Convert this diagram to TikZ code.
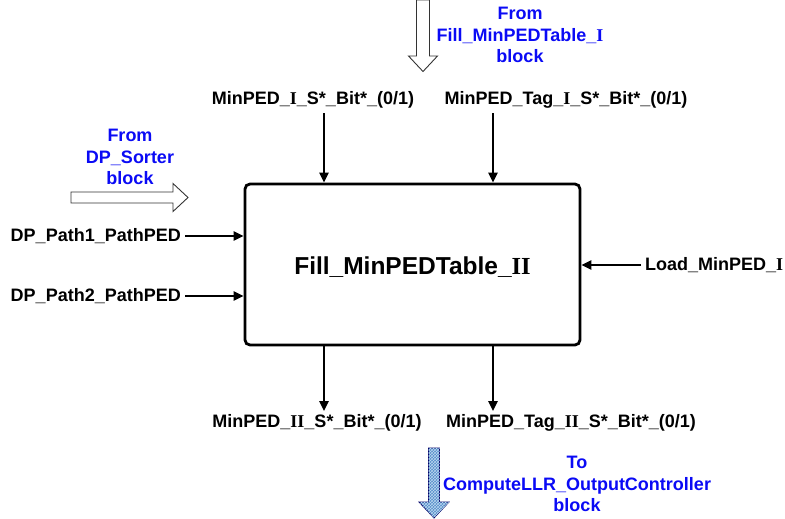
\documentclass[tikz,border=0pt]{standalone}
\usepackage{fontspec}
\setmainfont{Liberation Sans}
\newfontfamily\romanfont{Liberation Serif}
\usetikzlibrary{arrows.meta,patterns}
\newcommand{\RmI}{{\romanfont\bfseries I}}
\newcommand{\RmII}{{\romanfont\bfseries II}}
\definecolor{notetext}{RGB}{10,10,245}
\definecolor{outblue}{RGB}{85,140,200}
\definecolor{outgrid}{RGB}{185,215,240}
\tikzset{
  lbl/.style={font=\fontsize{18}{21.5}\selectfont\bfseries, inner sep=0pt},
  note/.style={font=\fontsize{18}{21.5}\selectfont\bfseries, text=notetext, align=center, inner sep=0pt},
  sig/.style={line width=2.4pt, -{Triangle[length=10pt,width=9pt]}},
  hollow/.style={draw=black!80, line width=0.9pt, fill=white},
  blockbox/.style={draw, line width=2.8pt, rounded corners=5pt, minimum width=335pt, minimum height=161pt, inner sep=0pt}
}
\begin{document}
\begin{tikzpicture}[x=1pt,y=-1pt]
\useasboundingbox (0,0) rectangle (785,519);

% central block
\node[blockbox] (box) at (412.5,264.5) {};
\node[font=\fontsize{24.5}{28}\selectfont\bfseries, inner sep=0pt] (title) at (412.5,267) {Fill\_MinPEDTable\_\RmII};

% inputs from above
\node[lbl] (tin1) at (313,100) {MinPED\_\RmI\_S*\_Bit*\_(0/1)};
\node[lbl] (tin2) at (566,100) {MinPED\_Tag\_\RmI\_S*\_Bit*\_(0/1)};
\coordinate (tin1s) at (324,113);
\coordinate (tin2s) at (493,113);
\draw[sig] (tin1s) -- (tin1s |- box.north);
\draw[sig] (tin2s) -- (tin2s |- box.north);

% outputs below
\node[lbl] (bout1) at (317,423) {MinPED\_\RmII\_S*\_Bit*\_(0/1)};
\node[lbl] (bout2) at (571,423) {MinPED\_Tag\_\RmII\_S*\_Bit*\_(0/1)};
\coordinate (bout1n) at (324,411);
\coordinate (bout2n) at (493,411);
\draw[sig] (bout1n |- box.south) -- (bout1n);
\draw[sig] (bout2n |- box.south) -- (bout2n);

% inputs from the left
\node[lbl, anchor=east] (lin1) at (181,236) {DP\_Path1\_PathPED};
\node[lbl, anchor=east] (lin2) at (181,296) {DP\_Path2\_PathPED};
\draw[sig] ([xshift=4pt]lin1.east) -- (lin1.east -| box.west);
\draw[sig] ([xshift=4pt]lin2.east) -- (lin2.east -| box.west);

% input from the right
\node[lbl, anchor=west] (rin) at (645,265) {Load\_MinPED\_\RmI};
\draw[sig] ([xshift=-4pt]rin.west) -- (rin.west -| box.east);

% block-level arrows
\draw[hollow] (416.5,0) -- (429.5,0) -- (429.5,56) -- (437.5,56) -- (423,71.5) -- (408.5,56) -- (416.5,56) -- cycle;
\node[note] (fromtop) at (520,35) {From\\Fill\_MinPEDTable\_\RmI\\block};

\draw[hollow] (71,192) -- (173,192) -- (173,183.5) -- (188,197.5) -- (173,211.5) -- (173,203) -- (71,203) -- cycle;
\node[note] (fromleft) at (130,157) {From\\DP\_Sorter\\block};

\draw[draw=black!60!blue, line width=0.8pt, fill=outblue,
      postaction={pattern=crosshatch, pattern color=outgrid}]
  (428.5,448) -- (439.5,448) -- (439.5,502) -- (449,502) -- (434,518) -- (419,502) -- (428.5,502) -- cycle;
\node[note] (tobottom) at (577,484) {To\\ComputeLLR\_OutputController\\block};
\end{tikzpicture}
\end{document}
